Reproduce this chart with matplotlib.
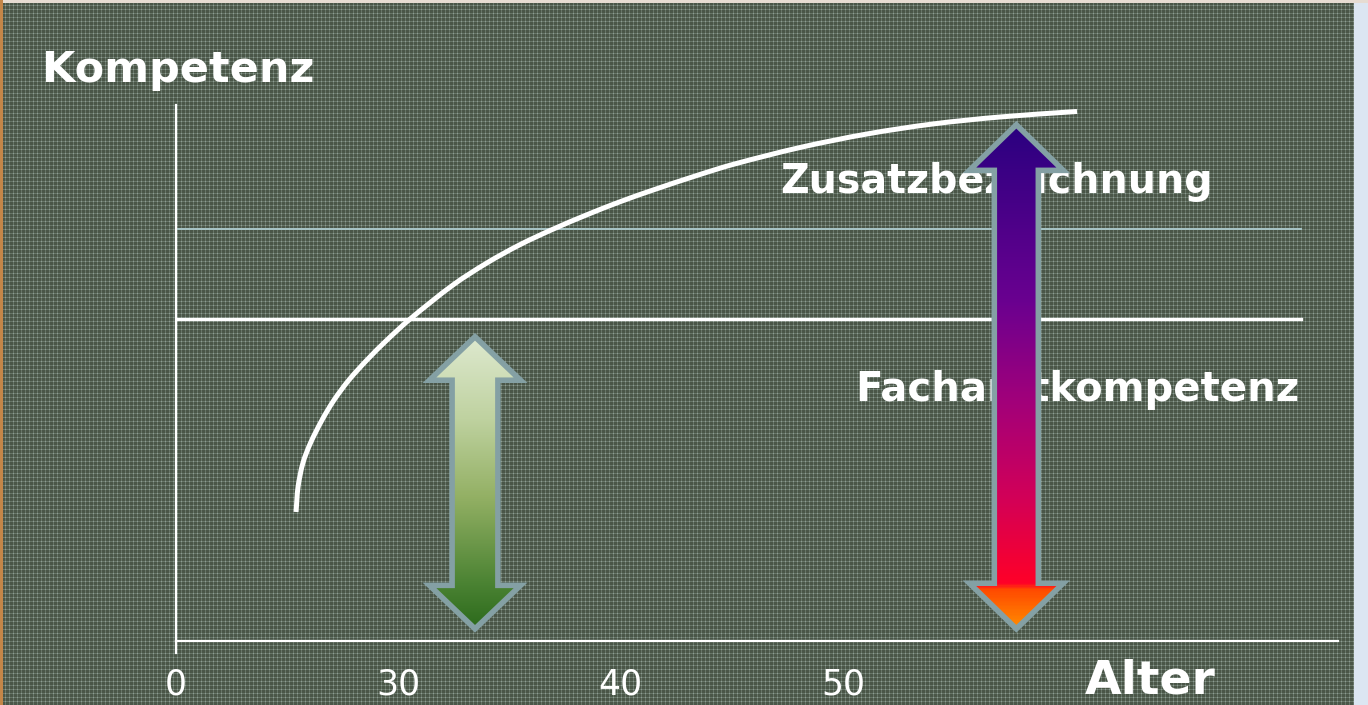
import numpy as np
import matplotlib
matplotlib.use('Agg')
import matplotlib.pyplot as plt
from matplotlib.patches import Polygon, PathPatch
from matplotlib.path import Path
from matplotlib.colors import LinearSegmentedColormap

# x axis: age, y axis: competence (arbitrary units)
tick_ages = [20, 30, 40, 50]
tick_labels = ['0', '30', '40', '50']

curve_age = [25.40, 25.49, 25.71, 26.05, 26.57, 27.11, 27.78, 28.59, 29.49, 30.53, 32.46,
             33.99, 35.47, 36.96, 38.49, 39.97, 41.46, 43.43, 45.05, 48.07, 51.08, 54.05,
             57.07, 60.53]
curve_comp = [24.34, 29.06, 33.58, 37.36, 41.70, 45.47, 49.25, 53.02, 56.79, 60.75, 67.17,
              71.34, 74.77, 77.70, 80.43, 82.87, 85.09, 87.83, 89.91, 93.11, 95.66, 97.55,
              98.87, 99.91]

fach_level = 60.8      # Facharztkompetenz
zusatz_level = 77.7    # Zusatzbezeichnung
level_end = 70.6

W, H = 1368, 705
fig = plt.figure(figsize=(W / 100, H / 100), dpi=100)

# textured board background
base = np.array([0x4a, 0x56, 0x48]) / 255
mid = np.array([0x68, 0x76, 0x68]) / 255
hi = np.array([0x8c, 0x9c, 0x94]) / 255
bg = np.ones((H, W, 3)) * base
bg[1::4, :] = mid
bg[:, 1::4] = mid
bg[1::4, 1::4] = hi
bg[:, 1354:] = np.array([0xdc, 0xe6, 0xf2]) / 255
bg[:3, :] = np.array([0xe6, 0xdc, 0xd2]) / 255
bg[:, :3] = np.array([0xc4, 0x86, 0x48]) / 255
fig.figimage(bg, xo=0, yo=0, origin='upper', zorder=-10)

ax = fig.add_axes([176 / W, (H - 641) / H, (1338 - 176) / W, (641 - 105) / H])
ax.set_facecolor('none')
ax.set_xlim(20, 72.27)
ax.set_ylim(0, 101.13)
for s in ['top', 'right']:
    ax.spines[s].set_visible(False)
for s in ['left', 'bottom']:
    ax.spines[s].set_color('white')
    ax.spines[s].set_linewidth(1.6)
ax.set_yticks([])
ax.set_xticks(tick_ages)
ax.set_xticklabels(tick_labels)
ax.tick_params(axis='x', length=0, pad=19, labelsize=25, labelcolor='white')
ax.plot([20, 20], [0, -2.3], color='white', lw=1.6, clip_on=False)

# level lines
ax.plot([20, level_end], [zusatz_level, zusatz_level], color='#a8c6c6', lw=1.4, zorder=2)
ax.plot([20, level_end], [fach_level, fach_level], color='white', lw=2.4, zorder=2)

# competence curve: smooth bezier path through the read points,
# tangents worked out in screen-proportional units
sx = 1162 / 52.27
sy = 536 / 101.13
P = np.column_stack([curve_age, curve_comp]) * [sx, sy]
n = len(P)
tang = []
for i in range(n):
    d = P[min(i + 1, n - 1)] - P[max(i - 1, 0)]
    tang.append(d / np.hypot(*d))
verts = [P[0]]
codes = [Path.MOVETO]
for i in range(n - 1):
    L = np.hypot(*(P[i + 1] - P[i]))
    verts += [P[i] + tang[i] * L / 3, P[i + 1] - tang[i + 1] * L / 3, P[i + 1]]
    codes += [Path.CURVE4] * 3
verts = np.array(verts) / [sx, sy]
ax.add_patch(PathPatch(Path(verts, codes), facecolor='none', edgecolor='white',
                       lw=3.6, capstyle='butt', zorder=3))

ax.text(47.17, 86.6, 'Zusatzbezeichnung', color='white', fontsize=28.5, fontweight='bold',
        ha='left', va='center', zorder=4)
ax.text(50.54, 47.4, 'Facharztkompetenz', color='white', fontsize=29, fontweight='bold',
        ha='left', va='center', zorder=4)
fig.text(42 / W, 1 - 70 / H, 'Kompetenz', color='white', fontsize=31, fontweight='bold',
         ha='left', va='center')
fig.text(1085 / W, 1 - 681 / H, 'Alter', color='white', fontsize=34, fontweight='bold',
         ha='left', va='center')


def double_arrow(xc, ybot, ytop, hw, sw, hl, stops):
    pts = [(xc, ytop), (xc + hw, ytop - hl), (xc + sw, ytop - hl), (xc + sw, ybot + hl),
           (xc + hw, ybot + hl), (xc, ybot), (xc - hw, ybot + hl), (xc - sw, ybot + hl),
           (xc - sw, ytop - hl), (xc - hw, ytop - hl)]
    cmap = LinearSegmentedColormap.from_list('g', stops)
    grad = np.linspace(0, 1, 400).reshape(-1, 1)
    im = ax.imshow(grad, cmap=cmap, origin='lower', aspect='auto',
                   extent=[xc - hw, xc + hw, ybot, ytop], zorder=5, interpolation='bilinear')
    poly = Polygon(pts, closed=True, facecolor='none', edgecolor='#84a0a4', lw=4.0,
                   joinstyle='miter', zorder=6)
    ax.add_patch(poly)
    im.set_clip_path(poly)


double_arrow(33.45, 2.3, 57.4, 2.05, 1.03, 8.2,
             [(0, '#2c6a1c'), (0.15, '#4a8232'), (0.45, '#93b064'), (0.72, '#bfd2a0'), (1, '#dee9cf')])
double_arrow(57.8, 2.3, 97.4, 2.11, 0.99, 8.6,
             [(0, '#ff8c00'), (0.075, '#ff4a00'), (0.088, '#ff0028'), (0.26, '#d20058'),
              (0.45, '#a2007a'), (0.65, '#6a0090'), (1, '#2a0080')])
ax.set_xlim(20, 72.27)
ax.set_ylim(0, 101.13)

fig.savefig('out.png', dpi=100)
